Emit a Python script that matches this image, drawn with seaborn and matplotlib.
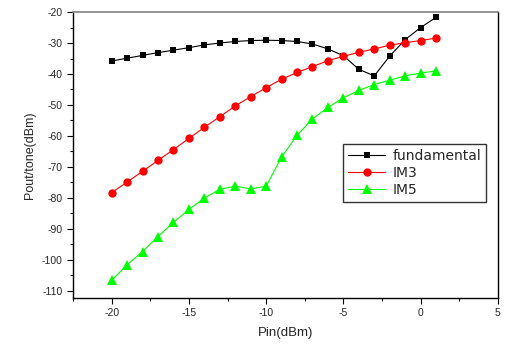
import numpy as np
import pandas as pd
import matplotlib
matplotlib.use('Agg')
import matplotlib.pyplot as plt
import seaborn as sns

# Data
pin = list(range(-20, 2))
fundamental = [-35.8, -34.9, -34.0, -33.1, -32.3, -31.5, -30.6, -30.0, -29.5, -29.2, -29.1,
               -29.2, -29.5, -30.3, -31.9, -34.1, -38.5, -40.6, -34.2, -28.9, -25.0, -21.7]
im3 = [-78.3, -74.9, -71.4, -67.9, -64.4, -60.8, -57.2, -53.8, -50.3, -47.3, -44.4,
       -41.7, -39.5, -37.6, -35.7, -34.3, -33.0, -31.9, -30.7, -29.9, -29.2, -28.4]
im5 = [-106.6, -101.6, -97.3, -92.5, -87.9, -83.7, -80.1, -77.2, -76.2, -77.1, -76.2,
       -66.8, -59.8, -54.5, -50.8, -47.7, -45.3, -43.4, -42.0, -40.6, -39.7, -39.0]

sns.set_style('ticks')
plt.rcParams['font.family'] = ['Liberation Sans', 'DejaVu Sans']
plt.rcParams['axes.unicode_minus'] = False

fig = plt.figure(figsize=(5.06, 3.44), dpi=100)
ax = fig.add_axes([0.1443, 0.1337, 0.8397, 0.8313])

series = [('fundamental', fundamental, 'black', 's', 5.0),
          ('IM3', im3, 'red', 'o', 6.0),
          ('IM5', im5, '#00ff00', '^', 6.8)]
for name, vals, col, mk, ms in series:
    df = pd.DataFrame({'Pin': pin, 'Pout': vals})
    sns.lineplot(data=df, x='Pin', y='Pout', ax=ax, color=col, marker=mk,
                 markersize=ms, markeredgewidth=0, linewidth=0.8, label=name)

ax.set_xlim(-22.5, 5)
ax.set_ylim(-112.3, -20)
ax.set_xticks([-20, -15, -10, -5, 0, 5])
ax.set_xticks(np.arange(-22.5, 5.1, 2.5), minor=True)
ax.set_yticks(np.arange(-110, -19, 10))
ax.set_yticks(np.arange(-110, -19, 5), minor=True)
ax.tick_params(axis='both', which='major', labelsize=7.5, length=4, width=0.8, direction='out', color='black')
ax.tick_params(axis='both', which='minor', length=2.5, width=0.8, direction='out', color='black')

for s in ['left', 'bottom', 'right']:
    ax.spines[s].set_color('black')
    ax.spines[s].set_linewidth(1.0)
ax.spines['top'].set_color('#808080')
ax.spines['top'].set_linewidth(1.2)

ax.set_xlabel('Pin(dBm)', fontsize=9.5, labelpad=6)
ax.set_ylabel('Pout/tone(dBm)', fontsize=9, labelpad=4)

leg = ax.legend(loc='upper right', bbox_to_anchor=(0.972, 0.537), fancybox=False,
                frameon=True, prop={'family': 'DejaVu Sans', 'size': 10},
                handlelength=2.7, borderpad=0.35, labelspacing=0.2,
                handletextpad=0.5, borderaxespad=0)
leg.get_frame().set_edgecolor('black')
leg.get_frame().set_linewidth(1.0)

fig.savefig('out.png', dpi=100)
plt.close()
